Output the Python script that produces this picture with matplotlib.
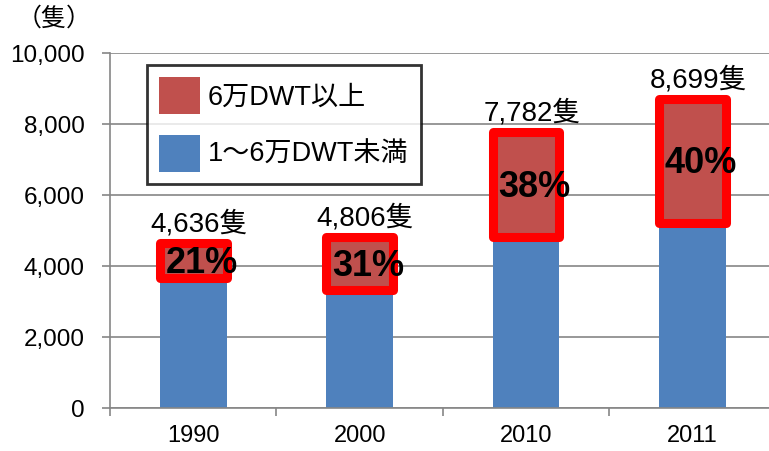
import numpy as np
import matplotlib
matplotlib.use('Agg')
import matplotlib.pyplot as plt
from matplotlib.patches import Rectangle, Patch

plt.rcParams['font.family'] = ['Liberation Sans', 'Noto Sans CJK JP']

# datos
anios = ['1990', '2000', '2010', '2011']
menos_6 = [3660, 3320, 4820, 5220]     # 1~6万DWT未満
mas_6 = [976, 1486, 2962, 3479]        # 6万DWT以上
totales = [4636, 4806, 7782, 8699]
porcentajes = [21, 31, 38, 40]

azul = '#4F81BD'
rojo = '#C0504D'

fig = plt.figure(figsize=(7.69, 4.51), dpi=100)
ax = fig.add_axes([0.143, 0.0953, 0.866, 0.787])

x = np.arange(len(anios))
b1 = ax.bar(x, menos_6, width=0.4, color=azul, zorder=2)
b2 = ax.bar(x, mas_6, width=0.4, bottom=menos_6, color=rojo, zorder=2)

# marco rojo alrededor de la parte superior
for p in b2:
    ax.add_patch(Rectangle((p.get_x(), p.get_y()), p.get_width(), p.get_height(),
                           fill=False, ec='#FF0000', lw=6.5, joinstyle='round', zorder=3))

for i, p in enumerate(b2):
    cx = p.get_x() + p.get_width() / 2
    ax.annotate(f'{porcentajes[i]}%', (cx, p.get_y() + p.get_height() / 2),
                xytext=(6, -2), textcoords='offset points', ha='center', va='center',
                fontsize=26, fontweight='bold', color='black', zorder=4)
    ax.annotate(f'{totales[i]:,}隻', (cx, totales[i]), xytext=(4, 4),
                textcoords='offset points', ha='center', va='bottom', fontsize=20, zorder=4)

ax.set_xlim(-0.5, 3.5)
ax.set_ylim(0, 10000)
ax.set_yticks(np.arange(0, 10001, 2000))
ax.set_yticklabels([f'{v:,}' for v in range(0, 10001, 2000)], fontsize=17.5)
ax.yaxis.grid(True, color='#868686', lw=1.2, zorder=0)
ax.set_axisbelow(True)

ax.set_xticks(x)
ax.set_xticklabels(anios, fontsize=17)
ax.set_xticks(np.arange(-0.5, 3.6, 1), minor=True)
ax.tick_params(axis='x', which='major', length=0, pad=12)
ax.tick_params(axis='x', which='minor', length=6, color='#868686', width=1.2)
ax.tick_params(axis='y', length=6, color='#868686', width=1.2, pad=12)

for s in ['top', 'right']:
    ax.spines[s].set_visible(False)
for s in ['left', 'bottom']:
    ax.spines[s].set_color('#868686')
    ax.spines[s].set_linewidth(1.2)

fig.text(0.022, 0.985, '（隻）', fontsize=18, ha='left', va='top')

handles = [Patch(facecolor=rojo, edgecolor='none'), Patch(facecolor=azul, edgecolor='none')]
leg = fig.legend(handles, ['6万DWT以上', '1～6万DWT未満'], loc='upper left',
                 bbox_to_anchor=(0.191, 0.856), fontsize=19.5, frameon=True, fancybox=False,
                 handlelength=1.5, handleheight=1.73, labelspacing=0.75,
                 handletextpad=0.3, borderpad=0.45, borderaxespad=0)
leg.get_frame().set_edgecolor('black')
leg.get_frame().set_linewidth(2)

fig.savefig('out.png', dpi=100)
